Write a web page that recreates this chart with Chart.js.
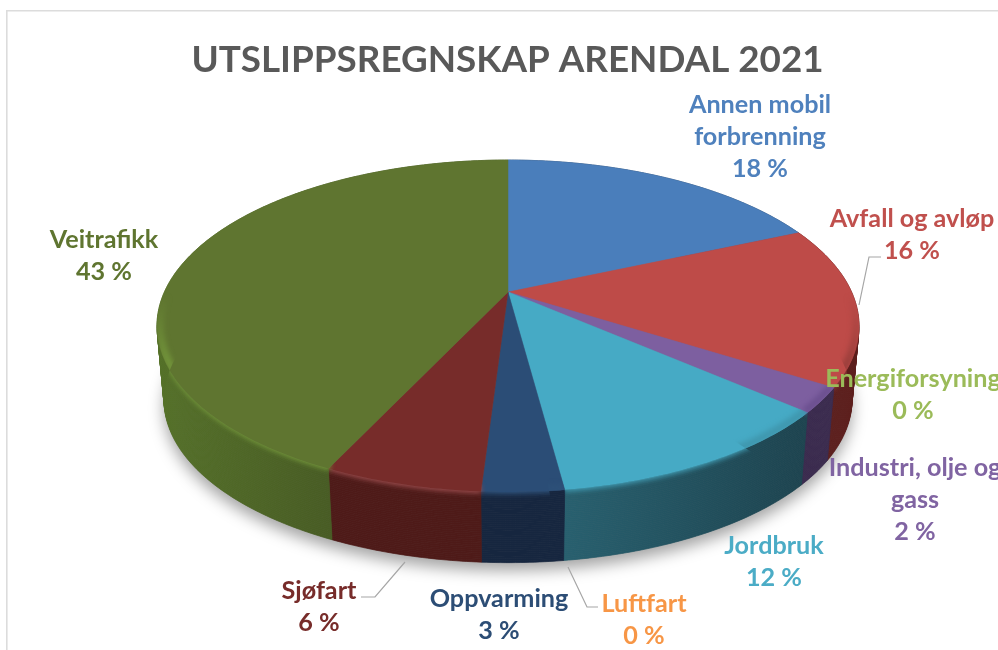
<!DOCTYPE html>
<html><head><meta charset="utf-8">
<style>html,body{margin:0;padding:0;background:#fff;overflow:hidden}#w{position:absolute;left:0;top:0;width:998px;height:650px}canvas{filter:blur(0.4px)}</style>
<script src="https://cdn.jsdelivr.net/npm/chart.js@4/dist/chart.umd.min.js"></script>
</head><body><div id="w"><canvas id="c" width="998" height="650"></canvas></div>
<script>
const categories = ['Annen mobil forbrenning','Avfall og avløp','Energiforsyning','Industri, olje og gass','Jordbruk','Luftfart','Oppvarming','Sjøfart','Veitrafikk'];
const shares = [18.4,15.6,0,2.4,11.5,0,3.1,6.0,43.0];
const titleText = 'UTSLIPPSREGNSKAP ARENDAL 2021';

const labelWraps = [['Annen mobil','forbrenning'],['Avfall og avløp'],['Energiforsyning'],['Industri, olje og','gass'],['Jordbruk'],['Luftfart'],['Oppvarming'],['Sjøfart'],['Veitrafikk']];
const topColors = ['#4a7ebb','#be4b48','#98b954','#7d5fa0','#46aac5','#f79646','#2b4d76','#772c2a','#5f7530'];
const textColors = ['#4f81bd','#c0504d','#9bbb59','#8064a2','#4bacc6','#f79646','#2c4d75','#772c2a','#5f7530'];
const sideLeft = ['#2c4a70','#5c1e1c','#5c7030','#3a2a4e','#28606f','#94591f','#16263f','#4e1a18','#547028'];
const sideRight = ['#2c4a70','#5c1e1c','#5c7030','#3a2a4e','#1d4450','#94591f','#16263f','#4e1a18','#485c24'];
const rimColors = ['#4a7ebb','#9c3f3c','#98b954','#6c5090','#3f97ae','#f79646','#2d5078','#96494a','#71933a'];
const labelAnchors = [[760,105],[912,219],[913,379],[915,468],[774,546],[644,604],[499,599],[319,591],[104,240]];
const leaderLines = [[[859,305],[869,257],[881,257]],[[405,562],[375,597],[361,597]],[[568,567],[587,607],[598,607]]];

const CX=508, APEX_Y=292, K=343.6, A=99.2, C=-0.2048, DEPTH=74, SHRINK=0.98, ELL_Y=326, LEVELS=37;
function proj(a,r){const u=r*Math.cos(a),v=r*Math.sin(a),w=1+C*v;return [CX+K*u/w,(A*v+APEX_Y)/w];}
function level(a,l){const p=proj(a,1),s=1-(1-SHRINK)*l;return [CX+(p[0]-CX)*s,ELL_Y+(p[1]-ELL_Y)*s+DEPTH*l];}
function low(a){return level(a,1);}
function trace(ctx,a0,a1,fn,first){const n=Math.max(2,Math.ceil(Math.abs(a1-a0)/0.012));for(let i=0;i<=n;i++){const p=fn(a0+(a1-a0)*i/n);if(i===0&&first)ctx.moveTo(p[0],p[1]);else ctx.lineTo(p[0],p[1]);}}
function frontSpan(o){let lo=1e9,hi=-1e9;for(let i=0;i<=60;i++){const a=o.s+(o.t-o.s)*i/60;if(Math.sin(a)>-0.05){const x=low(a)[0];lo=Math.min(lo,x);hi=Math.max(hi,x);}}return [lo,hi];}

const pie3d={id:'pie3d',
 beforeDatasetsDraw(chart){
  const ctx=chart.ctx, arcs=chart.getDatasetMeta(0).data;
  const on=arcs.map((e,i)=>({i,s:e.startAngle,t:e.endAngle})).filter(o=>o.t-o.s>1e-6);
  // frame
  ctx.save();ctx.strokeStyle='#dcdcdc';ctx.lineWidth=1.6;ctx.beginPath();ctx.moveTo(6.8,650);ctx.lineTo(6.8,10.8);ctx.lineTo(998,10.8);ctx.stroke();ctx.restore();
  // ground shadow
  ctx.save();ctx.shadowColor='rgba(0,0,0,0.36)';ctx.shadowBlur=15;ctx.shadowOffsetY=8;ctx.fillStyle='#777';ctx.beginPath();trace(ctx,0,Math.PI*2,low,true);ctx.closePath();ctx.fill();ctx.restore();
  // walls: stacked strips from the top ring down to the bottom ring
  on.forEach(o=>{
    const span=frontSpan(o);
    let fill=sideLeft[o.i];
    if(span[1]-span[0]>=1){const g=ctx.createLinearGradient(span[0],0,span[1],0);g.addColorStop(0,sideLeft[o.i]);g.addColorStop(1,sideRight[o.i]);fill=g;}
    ctx.fillStyle=fill;ctx.strokeStyle=fill;ctx.lineWidth=0.7;
    for(let k=0;k<LEVELS;k++){
      const l0=k/LEVELS,l1=(k+1)/LEVELS;
      ctx.beginPath();trace(ctx,o.s,o.t,a=>level(a,l0),true);trace(ctx,o.t,o.s,a=>level(a,l1),false);ctx.closePath();ctx.fill();ctx.stroke();
    }
  });
  // faces
  on.forEach(o=>{
    ctx.fillStyle=topColors[o.i];
    ctx.beginPath();ctx.moveTo(CX,APEX_Y);trace(ctx,o.s,o.t,a=>proj(a,1),false);ctx.closePath();ctx.fill();
    ctx.strokeStyle=topColors[o.i];ctx.lineWidth=0.5;ctx.stroke();
  });
  // rim highlight, fading out towards the sides of the disc
  on.forEach(o=>{
    if(o.t<-0.3||o.s>Math.PI+0.3)return;
    const s=Math.max(o.s,-0.3),t=Math.min(o.t,Math.PI+0.3);
    ctx.save();
    ctx.beginPath();ctx.moveTo(CX,APEX_Y);trace(ctx,o.s,o.t,a=>proj(a,1),false);trace(ctx,o.t,o.s,low,false);ctx.closePath();ctx.clip();
    const g=ctx.createLinearGradient(0,295,0,360);g.addColorStop(0,rimColors[o.i]+'00');g.addColorStop(1,rimColors[o.i]+'ff');
    ctx.filter='blur(2.5px)';ctx.strokeStyle=g;ctx.lineWidth=8;ctx.lineCap='butt';
    ctx.beginPath();trace(ctx,s,t,a=>proj(a,0.992),true);ctx.stroke();
    ctx.restore();
  });
  // leaders
  ctx.save();ctx.strokeStyle='#a6a6a6';ctx.lineWidth=1.2;leaderLines.forEach(l=>{ctx.beginPath();l.forEach((p,i)=>i?ctx.lineTo(p[0],p[1]):ctx.moveTo(p[0],p[1]));ctx.stroke();});ctx.restore();
  // labels
  ctx.save();ctx.font='bold 25.2px Lato';ctx.textAlign='center';ctx.textBaseline='middle';
  categories.forEach((c,i)=>{
    ctx.fillStyle=textColors[i];
    const lines=labelWraps[i].concat([Math.round(shares[i])+' %']);
    lines.forEach((ln,j)=>ctx.fillText(ln,labelAnchors[i][0],labelAnchors[i][1]+j*32));
  });
  ctx.restore();
  return false;
 }
};

new Chart(document.getElementById('c'),{
 type:'pie',
 data:{labels:categories,datasets:[{data:shares,backgroundColor:topColors}]},
 options:{responsive:false,animation:false,
  layout:{padding:{left:17}},
  plugins:{legend:{display:false},tooltip:{enabled:false},
   title:{display:true,text:titleText,color:'#595959',font:{family:'Lato',size:36.8,weight:'bold'},padding:{top:38,bottom:10}}}},
 plugins:[pie3d]
});
</script></body></html>
